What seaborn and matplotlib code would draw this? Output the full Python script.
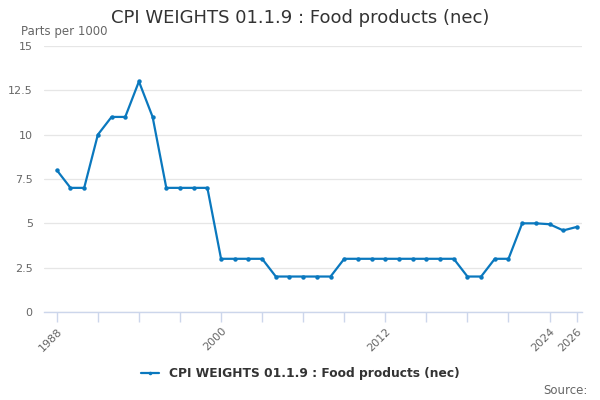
import numpy as np
import pandas as pd
import seaborn as sns
import matplotlib.pyplot as plt

years = list(range(1988, 2027))
weights = [8, 7, 7, 10, 11, 11, 13, 11, 7, 7, 7, 7,
           3, 3, 3, 3, 2, 2, 2, 2, 2, 3, 3, 3, 3, 3, 3, 3, 3, 3,
           2, 2, 3, 3, 5, 5, 4.95, 4.6, 4.8]
series_name = 'CPI WEIGHTS 01.1.9 : Food products (nec)'
tick_years = [1988, 2000, 2012, 2024, 2026]

df = pd.DataFrame({'year': years, 'value': weights})

sns.set_theme(style='white')
plt.rcParams['font.family'] = ['DejaVu Sans']

fig = plt.figure(figsize=(6, 4), dpi=100)
ax = fig.add_axes([0.073, 0.22, 0.897, 0.665])

line_col = '#0a78be'
sns.lineplot(data=df, x='year', y='value', ax=ax, color=line_col, linewidth=1.6,
             marker='o', markersize=3.2, markeredgewidth=0, label=series_name)

ax.set_xlim(1987.05, 2026.37)
ax.set_ylim(0, 15)
ax.set_yticks([0, 2.5, 5, 7.5, 10, 12.5, 15])
ax.set_yticklabels(['0', '2.5', '5', '7.5', '10', '12.5', '15'])
ax.yaxis.grid(True, color='#e6e6e6', linewidth=0.9)
ax.tick_params(axis='y', length=0, labelsize=8, labelcolor='#666666', pad=8)

# minor ticks every 3 years, labels only at selected years
ax.set_xticks(list(range(1988, 2025, 3)) + [2026], minor=True)
ax.set_xticks(tick_years)
ax.set_xticklabels([str(y) for y in tick_years], rotation=45, ha='right',
                   rotation_mode='anchor')
ax.tick_params(axis='x', which='both', direction='out', length=7, width=1,
               color='#ccd6eb', bottom=True, labelsize=8, labelcolor='#666666')
ax.tick_params(axis='x', which='major', pad=3)

for s in ['top', 'right', 'left']:
    ax.spines[s].set_visible(False)
ax.spines['bottom'].set_color('#ccd6eb')
ax.spines['bottom'].set_linewidth(1)
ax.set_xlabel('')
ax.set_ylabel('')

fig.text(0.5, 0.955, series_name, ha='center', va='center', fontsize=13, color='#333333')
fig.text(0.035, 0.922, 'Parts per 1000', ha='left', va='center', fontsize=8.5, color='#666666')
fig.text(0.98, 0.025, 'Source:', ha='right', va='center', fontsize=8.5, color='#666666')

ax.legend(loc='center', frameon=False, fontsize=8.8, handlelength=1.5, markerscale=0.8)
leg = ax.get_legend()
leg.set_bbox_to_anchor((0.5, 0.065), transform=fig.transFigure)
for t in leg.get_texts():
    t.set_fontweight('bold')
    t.set_color('#333333')

fig.savefig('out.png', dpi=100)
